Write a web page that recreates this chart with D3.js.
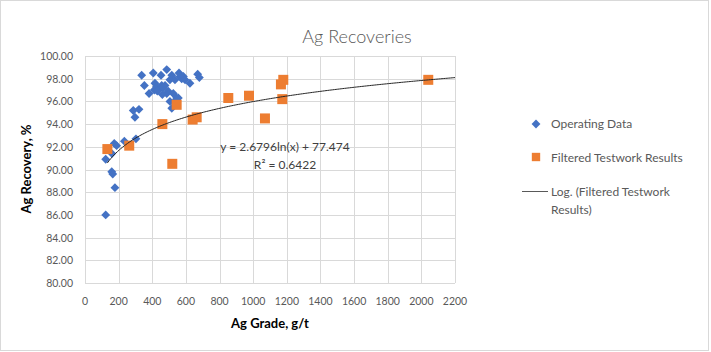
<!DOCTYPE html>
<html>
<head>
<meta charset="utf-8">
<script src="https://cdn.jsdelivr.net/npm/d3@7"></script>
<style>
  body { margin: 0; background: #fff; }
  text { font-family: Lato, "Open Sans", sans-serif; fill: #595959; }
</style>
</head>
<body>
<div id="chart"></div>
<script>
// operating data [grade g/t, recovery %]
var operatingData = [
  [123, 86.0], [123, 90.9], [159, 89.8], [165, 89.6], [178, 88.4], [174, 92.3],
  [188, 92.1], [160, 91.4], [234, 92.5], [303, 92.7], [287, 95.2], [321, 95.3],
  [297, 94.6], [337, 98.3], [353, 97.4], [381, 96.7], [406, 98.5], [412, 97.0],
  [416, 97.6], [426, 97.3], [436, 97.0], [446, 97.2], [452, 98.3], [456, 97.4],
  [466, 97.2], [476, 97.4], [486, 98.8], [486, 96.7], [495, 96.9], [505, 97.9],
  [505, 96.0], [516, 98.3], [516, 95.4], [525, 96.7], [535, 97.9], [545, 96.3],
  [555, 96.3], [559, 98.5], [565, 98.2], [575, 98.0], [585, 98.2], [595, 97.9],
  [624, 97.6], [670, 98.4], [680, 98.1], [430, 96.9], [460, 96.6], [540, 96.1]
];

var testworkData = [
  [133, 91.8], [263, 92.1], [460, 94.0], [519, 90.5], [545, 95.7], [640, 94.4],
  [664, 94.6], [852, 96.3], [975, 96.5], [1070, 94.5], [1179, 97.9], [1165, 97.5],
  [1173, 96.2], [2041, 97.9]
];

// Excel log trendline on the testwork results
var trendA = 2.6796,
  trendB = 77.474,
  trendLabel = 'y = 2.6796ln(x) + 77.474',
  r2Label = 'R\u00b2 = 0.6422';

var xTicks = d3.range(0, 2201, 200),
  yTicks = d3.range(80, 100.01, 2);

var legendLabels = ['Operating Data', 'Filtered Testwork Results', ['Log. (Filtered Testwork', 'Results)']];

var width = 711,
  height = 352,
  plotLeft = 85,
  plotRight = 455,
  plotTop = 56,
  plotBottom = 283,
  blue = '#4472c4',
  orange = '#ed7d31',
  grid = '#d9d9d9';

var svg = d3.select('#chart').append('svg')
  .attr('width', width)
  .attr('height', height);

svg.append('rect')
  .attr('x', 0.5).attr('y', 0.5)
  .attr('width', 708).attr('height', 350)
  .style('fill', '#fff')
  .style('stroke', grid);

var x = d3.scaleLinear().domain([0, 2200]).range([plotLeft, plotRight]),
  y = d3.scaleLinear().domain([80, 100]).range([plotBottom, plotTop]);

// gridlines
svg.append('g')
  .selectAll('line')
  .data(yTicks)
  .enter()
  .append('line')
  .attr('x1', plotLeft).attr('x2', plotRight)
  .attr('y1', function (d) { return Math.round(y(d)) + 0.5; })
  .attr('y2', function (d) { return Math.round(y(d)) + 0.5; })
  .style('stroke', grid);

svg.append('g')
  .selectAll('line')
  .data(xTicks)
  .enter()
  .append('line')
  .attr('y1', plotTop).attr('y2', plotBottom)
  .attr('x1', function (d) { return Math.round(x(d)) + 0.5; })
  .attr('x2', function (d) { return Math.round(x(d)) + 0.5; })
  .style('stroke', grid);

// tick labels
svg.append('g')
  .selectAll('text')
  .data(yTicks)
  .enter()
  .append('text')
  .attr('x', 73)
  .attr('y', function (d) { return y(d) + 4; })
  .attr('text-anchor', 'end')
  .style('font-size', '10.5px')
  .text(function (d) { return d.toFixed(2); });

svg.append('g')
  .selectAll('text')
  .data(xTicks)
  .enter()
  .append('text')
  .attr('x', function (d) { return x(d); })
  .attr('y', 305)
  .attr('text-anchor', 'middle')
  .style('font-size', '10.5px')
  .text(function (d) { return d; });

// axis titles + chart title
svg.append('text')
  .attr('x', 357).attr('y', 43)
  .attr('text-anchor', 'middle')
  .style('font-size', '18px')
  .style('font-weight', 300)
  .text('Ag Recoveries');

svg.append('text')
  .attr('x', 270).attr('y', 328)
  .attr('text-anchor', 'middle')
  .style('font-size', '13px')
  .style('font-weight', 'bold')
  .style('fill', '#000')
  .text('Ag Grade, g/t');

svg.append('text')
  .attr('transform', 'translate(31,169) rotate(-90)')
  .attr('text-anchor', 'middle')
  .style('font-size', '13px')
  .style('font-weight', 'bold')
  .style('fill', '#000')
  .text('Ag Recovery, %');

// markers
var diamond = d3.symbol().type(d3.symbolDiamond2).size(50),
  square = d3.symbol().type(d3.symbolSquare).size(100);

svg.append('g')
  .selectAll('path')
  .data(operatingData)
  .enter()
  .append('path')
  .attr('d', diamond)
  .attr('transform', function (d) { return 'translate(' + x(d[0]) + ',' + y(d[1]) + ')'; })
  .style('fill', blue);

svg.append('g')
  .selectAll('path')
  .data(testworkData)
  .enter()
  .append('path')
  .attr('d', square)
  .attr('transform', function (d) { return 'translate(' + x(d[0]) + ',' + y(d[1]) + ')'; })
  .style('fill', orange);

// trendline, evaluated from the fitted equation
var xMin = d3.min(testworkData, function (d) { return d[0]; }),
  trendXs = d3.range(xMin, 2200, 10).concat([2200]);

svg.append('path')
  .datum(trendXs)
  .attr('d', d3.line()
    .x(function (d) { return x(d); })
    .y(function (d) { return y(trendA * Math.log(d) + trendB); }))
  .style('fill', 'none')
  .style('stroke', '#262626')
  .style('stroke-width', 1);

svg.append('text')
  .attr('x', 285).attr('y', 151)
  .attr('text-anchor', 'middle')
  .style('font-size', '12px')
  .style('fill', '#404040')
  .text(trendLabel);

svg.append('text')
  .attr('x', 285).attr('y', 169)
  .attr('text-anchor', 'middle')
  .style('font-size', '12px')
  .style('fill', '#404040')
  .text(r2Label);

// legend
var legend = svg.append('g');

legend.append('path')
  .attr('d', diamond)
  .attr('transform', 'translate(536,124)')
  .style('fill', blue);

legend.append('path')
  .attr('d', d3.symbol().type(d3.symbolSquare).size(70))
  .attr('transform', 'translate(536,157)')
  .style('fill', orange);

legend.append('line')
  .attr('x1', 522).attr('x2', 548)
  .attr('y1', 191.5).attr('y2', 191.5)
  .style('stroke', '#595959');

legend.selectAll('text.item')
  .data(legendLabels)
  .enter()
  .append('text')
  .attr('class', 'item')
  .attr('x', 551)
  .attr('y', function (d, i) { return 128 + i * 34; })
  .style('font-size', '12px')
  .each(function (d) {
    var lines = Array.isArray(d) ? d : [d];
    d3.select(this).selectAll('tspan')
      .data(lines)
      .enter()
      .append('tspan')
      .attr('x', 551)
      .attr('dy', function (l, j) { return j ? 18 : 0; })
      .text(function (l) { return l; });
  });
</script>
</body>
</html>
